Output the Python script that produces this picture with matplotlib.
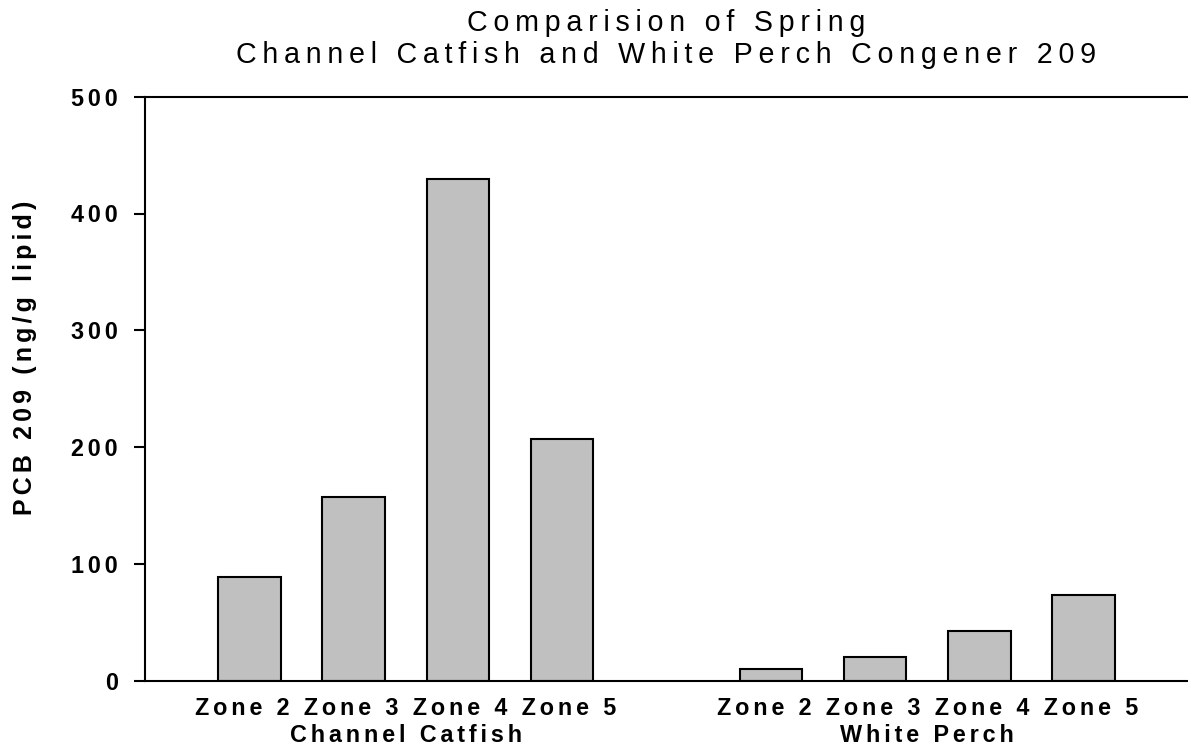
import matplotlib
matplotlib.use("Agg")
import matplotlib.pyplot as plt

plt.rcParams["font.family"] = ["Liberation Sans", "DejaVu Sans"]

# PCB 209 concentrations (ng/g lipid), spring sampling
zones = ["Zone 2", "Zone 3", "Zone 4", "Zone 5"]
species = ["Channel Catfish", "White Perch"]
catfish_values = [89.0, 157.3, 429.5, 206.9]
perch_values = [10.0, 20.3, 42.5, 73.6]
y_ticks = [0, 100, 200, 300, 400, 500]

title_lines = ["Comparision of Spring",
               "Channel Catfish and White Perch Congener 209"]
y_label = "PCB 209 (ng/g lipid)"


def spaced(text, gap="\u2006"):
    """Widen the tracking of a string by putting a narrow space between glyphs."""
    return gap.join(text)


fig = plt.figure(figsize=(11.88, 7.48), dpi=100)
ax = fig.add_axes([145 / 1188, 1 - 680.7 / 748, 1 - 145 / 1188, (680.7 - 96.7) / 748])

bar_kw = dict(width=0.6, color="#c0c0c0", edgecolor="black", linewidth=1.5, zorder=3)
pos_catfish = list(range(len(zones)))
pos_perch = [p + len(zones) + 1 for p in pos_catfish]
ax.bar(pos_catfish, catfish_values, **bar_kw)
ax.bar(pos_perch, perch_values, **bar_kw)

ax.set_xlim(-1, 9)
ax.set_ylim(0, 500)

for side in ("left", "bottom", "top"):
    ax.spines[side].set_linewidth(1.5)
    ax.spines[side].set_zorder(4)
ax.spines["right"].set_visible(False)

ax.set_yticks(y_ticks)
ax.set_yticklabels([spaced(str(v)) for v in y_ticks],
                   fontsize=16.8, fontweight="bold")
ax.tick_params(axis="y", direction="out", length=8, width=1.5, pad=11.5)

group_centers = [sum(pos_catfish) / len(pos_catfish), sum(pos_perch) / len(pos_perch)]
group_labels = [spaced(" ".join(zones)) + "\n" + spaced(name) for name in species]
ax.set_xticks(group_centers)
ax.set_xticklabels(group_labels, fontsize=16.8, fontweight="bold", linespacing=1.2)
ax.tick_params(axis="x", length=0, pad=12)

ax.set_title("\n".join(spaced(t, "\u2009") for t in title_lines), fontsize=20.6,
             linespacing=1.2, pad=24)

fig.text(25 / 1188, 1 - 358 / 748, spaced(y_label), rotation=90,
         fontsize=18, fontweight="bold", ha="center", va="center")

fig.savefig("out.png", dpi=100)
